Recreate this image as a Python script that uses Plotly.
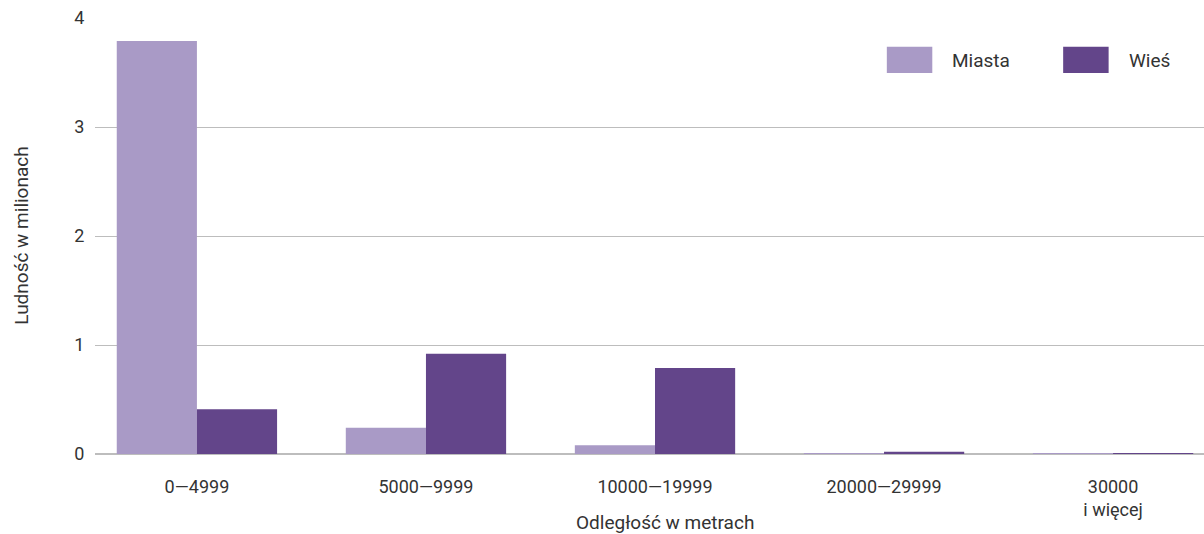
import plotly.graph_objects as go

categories = ["0—4999", "5000—9999", "10000—19999", "20000—29999", "30000<br>i więcej"]
miasta = [3.79, 0.24, 0.08, 0.004, 0.004]
wies = [0.41, 0.92, 0.79, 0.02, 0.003]
y_ticks = [0, 1, 2, 3, 4]

c_miasta = "#a99ac6"
c_wies = "#63458a"
txt = "#333333"
font = "Roboto"

fig = go.Figure()
fig.add_trace(go.Bar(x=categories, y=miasta, name="Miasta", marker=dict(color=c_miasta, line=dict(width=0))))
fig.add_trace(go.Bar(x=categories, y=wies, name="Wieś", marker=dict(color=c_wies, line=dict(width=0))))

fig.update_layout(
    width=1204, height=534,
    margin=dict(l=95, r=0, t=18, b=80),
    paper_bgcolor="white", plot_bgcolor="white",
    barmode="group", bargap=0.3, bargroupgap=0,
    showlegend=False,
    font=dict(family=font, size=18, color=txt),
    xaxis=dict(range=[-0.445, 4.397], showgrid=False, ticks="outside", ticklen=16,
               tickcolor="rgba(0,0,0,0)", showline=False, zeroline=False,
               tickfont=dict(size=18, color=txt)),
    yaxis=dict(range=[0, 4], tickvals=y_ticks, showgrid=True, gridcolor="#bdbdbd", gridwidth=1.2,
               zeroline=True, zerolinecolor="#bdbdbd", zerolinewidth=2,
               ticks="outside", ticklen=6, tickcolor="rgba(0,0,0,0)",
               tickfont=dict(size=18, color=txt), showline=False),
    annotations=[
        dict(text="Ludność w milionach", xref="paper", yref="paper", x=-0.067, y=0.5,
             xanchor="center", yanchor="middle", textangle=-90, showarrow=False,
             font=dict(size=19, color=txt)),
        dict(text="Odległość w metrach", xref="paper", yref="paper", x=0.514, y=-0.157,
             xanchor="center", yanchor="middle", showarrow=False,
             font=dict(size=19, color=txt)),
        dict(text="Miasta", xref="paper", yref="paper", x=0.771, y=0.903,
             xanchor="left", yanchor="middle", showarrow=False, font=dict(size=19, color=txt)),
        dict(text="Wieś", xref="paper", yref="paper", x=0.931, y=0.903,
             xanchor="left", yanchor="middle", showarrow=False, font=dict(size=19, color=txt)),
    ],
    shapes=[
        dict(type="rect", xref="paper", yref="paper", x0=0.714, x1=0.755, y0=0.874, y1=0.934,
             fillcolor=c_miasta, line=dict(width=0)),
        dict(type="rect", xref="paper", yref="paper", x0=0.873, x1=0.914, y0=0.874, y1=0.934,
             fillcolor=c_wies, line=dict(width=0)),
    ],
)

fig.write_html("out.html", config={"displayModeBar": False},
               post_script="document.body.style.margin='0';document.body.style.overflow='hidden';")
